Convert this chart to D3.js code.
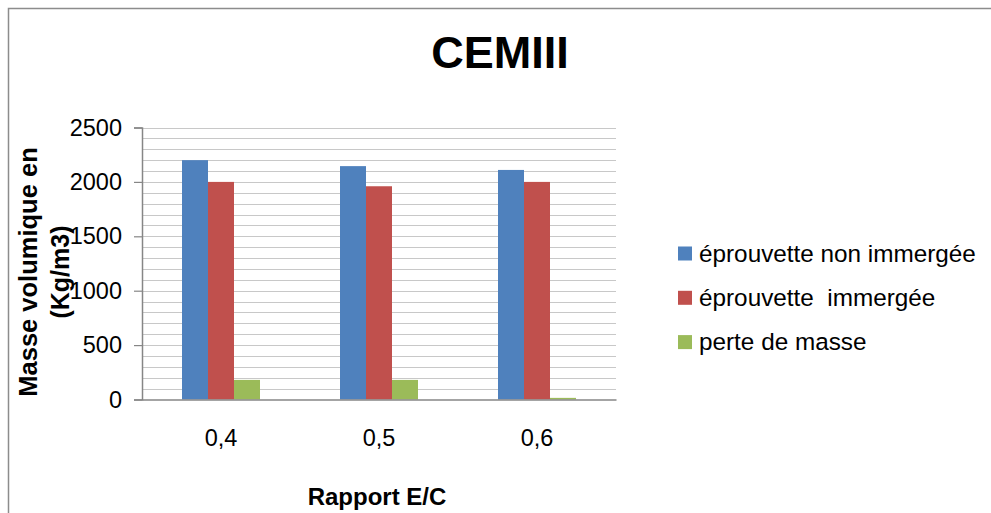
<!DOCTYPE html>
<html>
<head>
<meta charset="utf-8">
<script src="https://cdn.jsdelivr.net/npm/d3@7"></script>
<style>
  html, body { margin: 0; padding: 0; background: #fff; }
  svg { display: block; font-family: "Liberation Sans", Arial, sans-serif; }
  text { white-space: pre; }
</style>
</head>
<body>
<svg id="chart" width="991" height="513"></svg>
<script>
const categories = ["0,4", "0,5", "0,6"];
const seriesNames = ["éprouvette non immergée", "éprouvette  immergée", "perte de masse"];
const nonImmergee = [2200, 2145, 2110];
const immergee = [2000, 1960, 2000];
const perteMasse = [180, 180, 15];
const yTicks = [0, 500, 1000, 1500, 2000, 2500];
const gridValues = d3.range(0, 2501, 100);
const colors = ["#4F81BD", "#C0504D", "#9BBB59"];
const titleText = "CEMIII";
const xTitle = "Rapport E/C";
const yTitleLines = ["Masse volumique en", "(Kg/m3)"];

const seriesValues = [nonImmergee, immergee, perteMasse];

const svg = d3.select("#chart");

// outer frame
svg.append("rect")
  .attr("x", 8.5).attr("y", 8.5)
  .attr("width", 1000).attr("height", 1000)
  .attr("fill", "none").attr("stroke", "#8c8c8c").attr("stroke-width", 1.5);

const pLeft = 142, pRight = 616, pTop = 127.5, pBottom = 399.5;

const x0 = d3.scaleBand().domain(categories).range([pLeft, pRight]).paddingInner(0).paddingOuter(0);
const x1 = d3.scaleBand().domain(d3.range(seriesNames.length)).range([40, x0.bandwidth() - 40]);
const y = d3.scaleLinear().domain([0, 2500]).range([pBottom, pTop]);

// gridlines
svg.append("g").selectAll("line").data(gridValues.filter(v => v > 0)).join("line")
  .attr("x1", pLeft).attr("x2", pRight)
  .attr("y1", d => Math.round(y(d)) + 0.5).attr("y2", d => Math.round(y(d)) + 0.5)
  .attr("stroke", "#c8c8c8").attr("stroke-width", 1);

// bars
const groups = svg.append("g").selectAll("g").data(categories).join("g")
  .attr("transform", d => `translate(${x0(d)},0)`);
groups.selectAll("rect").data((c, ci) => seriesValues.map((vals, si) => ({si, v: vals[ci]}))).join("rect")
  .attr("x", d => x1(d.si))
  .attr("width", x1.bandwidth())
  .attr("y", d => y(d.v))
  .attr("height", d => y(0) - y(d.v))
  .attr("fill", d => colors[d.si]);

// y axis
const yAxis = d3.axisLeft(y).tickValues(yTicks).tickSize(8).tickPadding(12).tickFormat(d3.format("d"));
const gy = svg.append("g").attr("transform", `translate(${pLeft},0)`).call(yAxis);
gy.select(".domain").attr("stroke", "#868686").attr("stroke-width", 1.5);
gy.selectAll(".tick line").attr("stroke", "#868686").attr("stroke-width", 1.2);
gy.selectAll(".tick text").attr("font-size", 23.5).attr("fill", "#000").attr("font-family", "Liberation Sans, Arial, sans-serif");

// x axis
const xAxis = d3.axisBottom(x0).tickSize(0).tickPadding(30);
const gx = svg.append("g").attr("transform", `translate(0,${pBottom})`).call(xAxis);
gx.select(".domain").attr("stroke", "#868686").attr("stroke-width", 1.5);
gx.selectAll(".tick text").attr("font-size", 23.5).attr("fill", "#000").attr("font-family", "Liberation Sans, Arial, sans-serif");

// title
svg.append("text").attr("x", 500).attr("y", 68).attr("text-anchor", "middle")
  .attr("font-size", 45).attr("font-weight", "bold").text(titleText);

// x title
svg.append("text").attr("x", 377).attr("y", 505).attr("text-anchor", "middle")
  .attr("font-size", 24).attr("font-weight", "bold").text(xTitle);

// y title
yTitleLines.forEach((t, i) => {
  const bx = 37 + i * 32;
  svg.append("text").attr("transform", `translate(${bx},272) rotate(-90)`)
    .attr("text-anchor", "middle").attr("font-size", i === 0 ? 25.5 : 25).attr("font-weight", "bold").text(t);
});

// legend
const legend = svg.append("g");
seriesNames.forEach((name, i) => {
  const cy = 253.5 + i * 44.3;
  legend.append("rect").attr("x", 678).attr("y", cy - 7).attr("width", 14).attr("height", 14).attr("fill", colors[i]);
  legend.append("text").attr("x", 699).attr("y", cy + 8).attr("font-size", 24.3).attr("fill", "#000").text(name);
});
</script>
</body>
</html>
